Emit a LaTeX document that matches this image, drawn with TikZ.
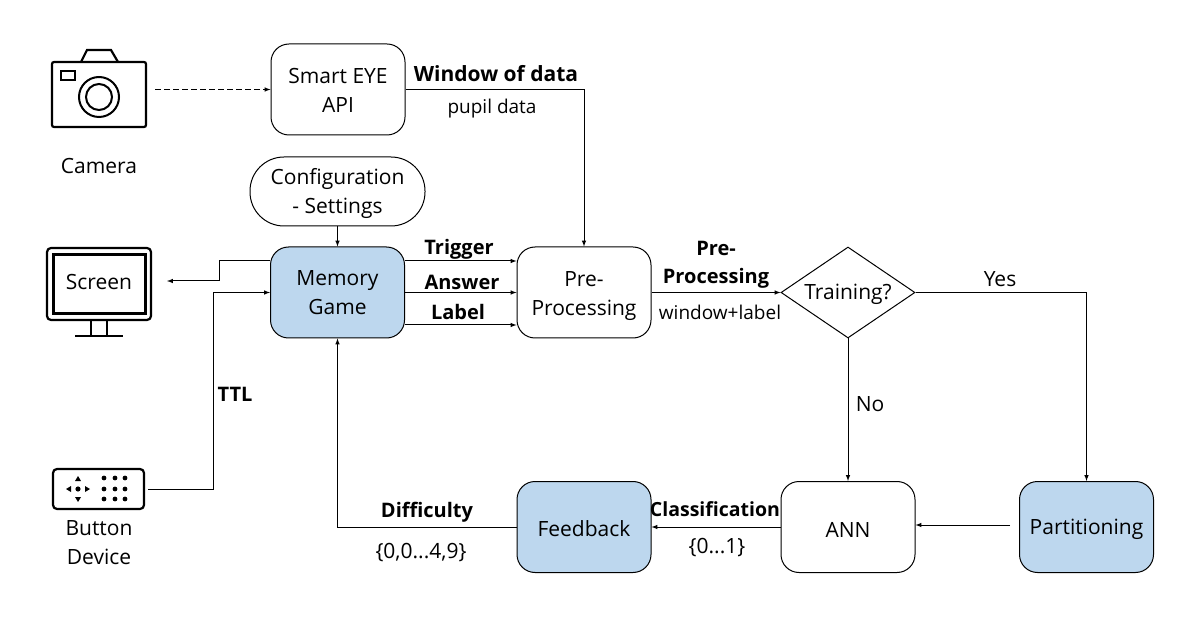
\documentclass[tikz,border=0pt]{standalone}
\usepackage{fontspec}
\setmainfont{Open Sans}
\usetikzlibrary{shapes.geometric}
\definecolor{boxblue}{HTML}{BDD7EE}
\tikzset{
	nudge/.style={execute at begin node={\rule{0pt}{#1}}},
	box/.style={draw,rounded corners=18pt,minimum width=134pt,minimum height=91pt,align=center,inner sep=0pt,nudge=20pt},
	bluebox/.style={box,fill=boxblue},
	txt/.style={align=center,inner sep=0pt},
	btxt/.style={txt,font=\fontsize{20}{28}\selectfont\bfseries},
	stxt/.style={txt,font=\fontsize{19}{25}\selectfont},
	link/.style={-latex,line width=1pt},
	icon/.style={line width=2.2pt,rounded corners=2pt},
}
\begin{document}
\begin{tikzpicture}[x=1pt,y=-1pt,font=\fontsize{21}{29}\selectfont,line width=1pt]
	\useasboundingbox (0,0) rectangle (1186,617);
	% boxes
	\node[box] (eye) at (338,89.5){\rule{0pt}{18pt}Smart EYE\\API};
	\node[box,rounded corners=34pt,minimum width=175pt,minimum height=69pt] (config) at (337.5,191.5){\rule{0pt}{21pt}Configuration\\- Settings};
	\node[bluebox] (game) at (337.5,292.5){Memory\\Game};
	\node[box] (pre) at (584,292.5){\rule{0pt}{22pt}Pre-\\Processing};
	\node[draw,diamond,aspect=1.47,minimum width=134pt,minimum height=91pt,inner sep=0pt,nudge=20pt] (train) at (848,292.5){Training?};
	\node[box] (ann) at (848,527){ANN};
	\node[bluebox] (part) at (1086.5,527){Partitioning};
	\node[bluebox] (fback) at (584,527){Feedback};
	% camera
	\draw[icon] (52,62) rectangle (146,127);
	\draw[icon,rounded corners=0pt] (81,62) -- (87,50) -- (111,50) -- (118,62);
	\draw[icon,rounded corners=0pt] (61,71) rectangle (75,80);
	\draw[line width=2pt] (99,97) circle (20) (99,97) circle (13);
	\node[txt] (camera) at (99,166){Camera};
	\coordinate (camout) at (155,89.5);
	% screen
	\draw[icon,rounded corners=4pt] (47,248) rectangle (151,320);
	\draw[line width=3pt] (53,255) rectangle (145,314);
	\draw[line width=2.2pt] (91,320) -- (91,336) (107,320) -- (107,336) (75,336) -- (123,336);
	\node[txt] (screen) at (99,282){Screen};
	\coordinate (scrin) at (167,281);
	% button device
	\draw[icon,rounded corners=4pt] (53,469) rectangle (144,509);
	\foreach \x in {104,115,125}
		\foreach \y in {478,489,499}
			\fill (\x,\y) circle (2.4);
	\fill (78,489) circle (2.6);
	\fill (75,481) -- (81,481) -- (78,476) -- cycle;
	\fill (75,497) -- (81,497) -- (78,502) -- cycle;
	\fill (71,486) -- (71,492) -- (66,489) -- cycle;
	\fill (85,486) -- (85,492) -- (90,489) -- cycle;
	\node[txt] (button) at (99,543){Button\\Device};
	\coordinate (btnout) at (148,489);
	\coordinate (partout) at (1010,525);
	% connectors
	\draw[link,dash pattern=on 6pt off 3pt] (camout) -- (eye.west);
	\draw[link] (eye.east) -| (pre.north);
	\draw[link] (config.south) -- (game.north);
	\draw[link] (game.west |- 0,261) -- (219,261) -- (219,281) -- (scrin);
	\draw[link] (btnout) -- (213,489) -- (213,292.5) -- (game.west);
	\draw[link] (game.east |- 0,261) -- (pre.west |- 0,261);
	\draw[link] (game.east) -- (pre.west);
	\draw[link] (game.east |- 0,325) -- (pre.west |- 0,325);
	\draw[link] (pre.east) -- (train.west);
	\draw[link] (train.east) -| (part.north);
	\draw[link] (train.south) -- (ann.north);
	\draw[link] (partout) -- (ann.east |- partout);
	\draw[link] (ann.west) -- (fback.east);
	\draw[link] (fback.west) -| (game.south);
	% labels
	\node[btxt,font=\fontsize{21}{29}\selectfont\bfseries] (lwin) at (496,74){Window of data};
	\node[stxt] (lpupil) at (492,108.5){pupil data};
	\node[btxt] (ltrig) at (459,249){Trigger};
	\node[btxt] (lans) at (462,282){Answer};
	\node[btxt] (llab) at (458,312){Label};
	\node[btxt] (lpre) at (716,265){Pre-\\Processing};
	\node[stxt] (lwl) at (720,312){window+label};
	\node[txt] (lyes) at (1000,279){Yes};
	\node[txt] (lno) at (870,404){No};
	\node[btxt] (lttl) at (235,394){TTL};
	\node[btxt] (ldiff) at (427,512.5){Difficulty};
	\node[txt] (lrange) at (421,553){\{0,0...4,9\}};
	\node[btxt,font=\fontsize{19.5}{26}\selectfont\bfseries] (lclass) at (715,509){Classification};
	\node[txt] (lunit) at (717,548){\{0...1\}};
\end{tikzpicture}
\end{document}
